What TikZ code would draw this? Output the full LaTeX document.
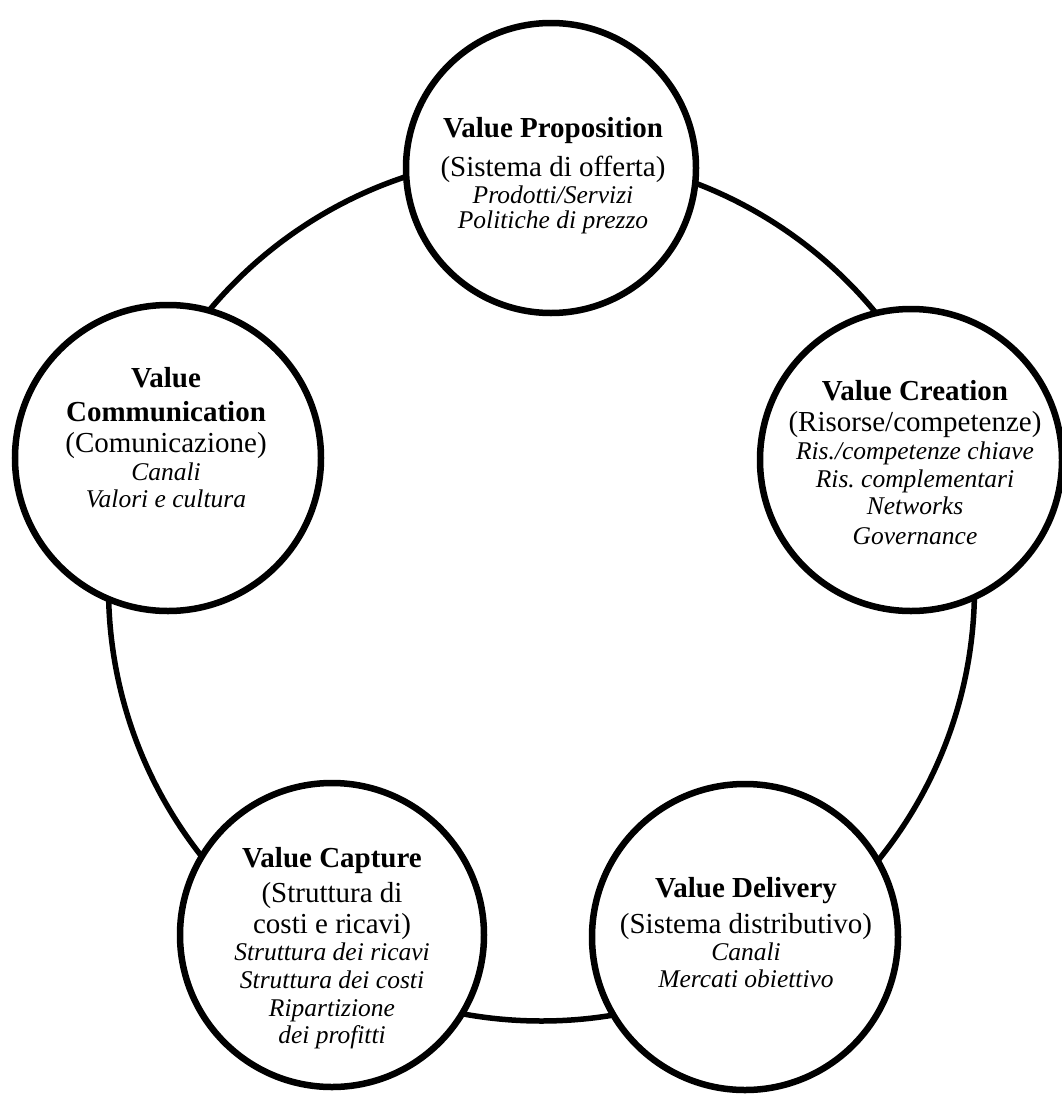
\documentclass[tikz,border=0pt]{standalone}
\usepackage{fontspec}
\setmainfont{Liberation Serif}
\frenchspacing
\begin{document}
\begin{tikzpicture}[x=1pt,y=-1pt,
  bub/.style={circle,draw,line width=6.5pt,fill=white,inner sep=0pt},
  ring/.style={line width=5.5pt},
  tb/.style={anchor=base,inner sep=0pt,font=\fontsize{29}{34}\selectfont\bfseries},
  tr/.style={anchor=base,inner sep=0pt,font=\fontsize{29}{34}\selectfont},
  ti/.style={anchor=base,inner sep=0pt,font=\fontsize{25.5}{29}\selectfont\itshape}]
\useasboundingbox (0,0) rectangle (1062,1095);
\fill[white] (0,0) rectangle (1062,1095);
% ring connecting the five elements
\coordinate (c) at (541.5,588);
\draw[ring] (c) circle[radius=433];
% circles
\node[bub,minimum size=290pt] (vp) at (551,168) {};
\node[bub,minimum size=302pt] (vc) at (911,460) {};
\node[bub,minimum size=306pt] (vm) at (168,458) {};
\node[bub,minimum size=304pt] (vk) at (332,935) {};
\node[bub,minimum size=306pt] (vd) at (745,937) {};
% Value Proposition
\node[tb] (vp1) at (553,137) {Value Proposition};
\node[tr] (vp2) at (553,176) {(Sistema di offerta)};
\node[ti] (vp3) at (553,203) {Prodotti/Servizi};
\node[ti] (vp4) at (553,228) {Politiche di prezzo};
% Value Creation
\node[tb] (vc1) at (915,400) {Value Creation};
\node[tr] (vc2) at (915,431) {(Risorse/competenze)};
\node[ti] (vc3) at (915,459) {Ris./competenze chiave};
\node[ti] (vc4) at (915,487) {Ris. complementari};
\node[ti] (vc5) at (915,514) {Networks};
\node[ti] (vc6) at (915,544) {Governance};
% Value Communication
\node[tb] (vm1) at (166,387) {Value};
\node[tb] (vm2) at (166,421) {Communication};
\node[tr] (vm3) at (166,452) {(Comunicazione)};
\node[ti] (vm4) at (166,480) {Canali};
\node[ti] (vm5) at (166,507) {Valori e cultura};
% Value Capture
\node[tb] (vk1) at (332,867) {Value Capture};
\node[tr] (vk2) at (332,902) {(Struttura di};
\node[tr] (vk3) at (332,933) {costi e ricavi)};
\node[ti] (vk4) at (332,960) {Struttura dei ricavi};
\node[ti] (vk5) at (332,988) {Struttura dei costi};
\node[ti] (vk6) at (332,1016) {Ripartizione};
\node[ti] (vk7) at (332,1043) {dei profitti};
% Value Delivery
\node[tb] (vd1) at (746,897) {Value Delivery};
\node[tr] (vd2) at (746,933) {(Sistema distributivo)};
\node[ti] (vd3) at (746,960) {Canali};
\node[ti] (vd4) at (746,987) {Mercati obiettivo};
\end{tikzpicture}
\end{document}
